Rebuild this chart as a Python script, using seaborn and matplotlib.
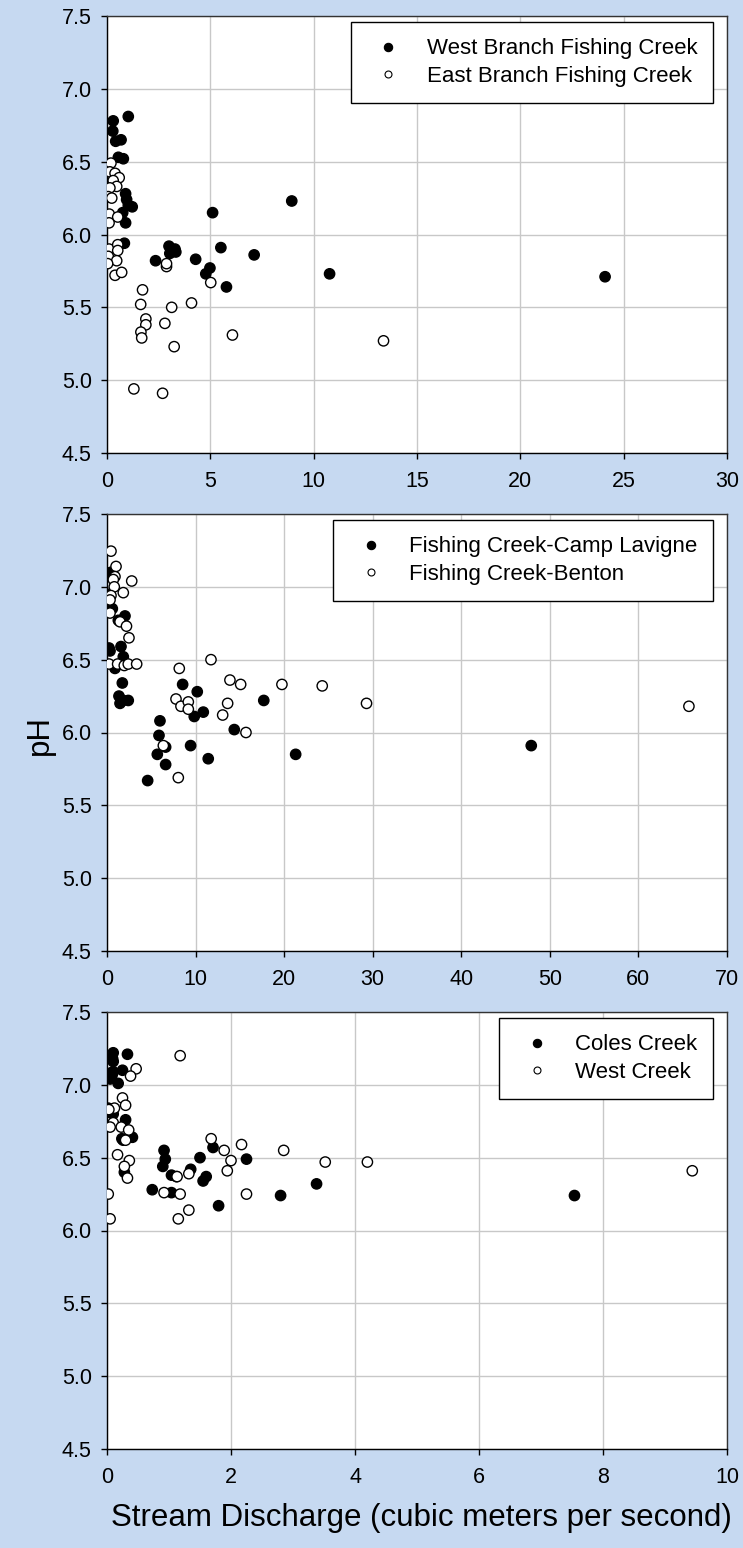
import numpy as np
import pandas as pd
import matplotlib
matplotlib.use('Agg')
import matplotlib.pyplot as plt
from matplotlib.lines import Line2D
import seaborn as sns

# ========================
# DATA
# ========================

# Panel 1
wb_q = [0.30, 1.03, 0.28, 0.42, 0.68, 0.55, 0.79, 0.90, 0.95, 1.03, 1.22, 0.76, 0.90, 0.84,
        5.11, 3.00, 3.29, 3.04, 3.33, 2.35, 4.29, 5.51, 7.12, 4.98, 4.78, 5.78, 8.94, 10.77, 24.1]
wb_ph = [6.78, 6.81, 6.71, 6.64, 6.65, 6.53, 6.52, 6.28, 6.24, 6.20, 6.19, 6.15, 6.08, 5.94,
         6.15, 5.92, 5.90, 5.87, 5.88, 5.82, 5.83, 5.91, 5.86, 5.77, 5.73, 5.64, 6.23, 5.73, 5.71]
eb_q = [0.19, 0.14, 0.39, 0.59, 0.30, 0.47, 0.14, 0.06, 0.23, 0.11, 0.52, 0.10, 0.10, 0.52,
        0.06, 0.52, 0.47, 0.03, 0.39, 0.71, 1.72, 2.88, 2.88, 5.02, 1.63, 3.13, 4.09, 1.88,
        1.88, 2.80, 1.64, 1.68, 3.25, 6.07, 1.30, 2.69, 13.38]
eb_ph = [6.49, 6.43, 6.42, 6.39, 6.37, 6.33, 6.32, 6.26, 6.25, 6.14, 6.12, 6.08, 5.90, 5.93,
         5.85, 5.89, 5.82, 5.80, 5.72, 5.74, 5.62, 5.78, 5.80, 5.67, 5.52, 5.50, 5.53, 5.42,
         5.38, 5.39, 5.33, 5.29, 5.23, 5.31, 4.94, 4.91, 5.27]

# Panel 2
cl_q = [0.45, 0.60, 0.34, 0.60, 2.03, 1.28, 0.23, 0.34, 1.58, 1.84, 0.90, 1.73, 1.35, 1.84,
        2.40, 1.47, 8.54, 10.19, 9.85, 10.87, 14.37, 5.98, 5.87, 6.62, 9.44, 5.68, 11.43,
        6.62, 4.59, 17.7, 21.3, 47.9]
cl_ph = [7.10, 7.07, 6.95, 6.85, 6.80, 6.77, 6.58, 6.56, 6.59, 6.52, 6.44, 6.34, 6.25, 6.22,
         6.22, 6.20, 6.33, 6.28, 6.11, 6.14, 6.02, 6.08, 5.98, 5.90, 5.91, 5.85, 5.82,
         5.78, 5.67, 6.22, 5.85, 5.91]
bn_q = [0.45, 1.02, 0.90, 0.71, 2.79, 0.82, 1.84, 0.45, 0.34, 0.34, 1.47, 2.20, 2.48, 11.74,
        0.23, 1.20, 1.95, 2.40, 3.35, 8.16, 7.79, 8.35, 9.18, 9.18, 13.88, 15.09, 13.62,
        13.06, 15.69, 6.36, 8.05, 19.75, 24.3, 29.3, 65.7]
bn_ph = [7.245, 7.14, 7.07, 7.05, 7.04, 7.00, 6.96, 6.94, 6.91, 6.82, 6.76, 6.73, 6.65, 6.50,
         6.47, 6.47, 6.46, 6.47, 6.47, 6.44, 6.23, 6.18, 6.21, 6.16, 6.36, 6.33, 6.20,
         6.12, 6.00, 5.91, 5.69, 6.33, 6.32, 6.20, 6.18]

# Panel 3
cc_q = [0.10, 0.09, 0.10, 0.33, 0.05, 0.085, 0.05, 0.10, 0.25, 0.18, 0.02, 0.05, 0.10, 0.30,
        0.24, 0.26, 0.41, 0.92, 0.94, 1.50, 1.71, 2.25, 0.28, 0.90, 1.04, 1.12, 1.35, 1.55,
        1.60, 0.73, 1.04, 1.80, 2.80, 3.38, 7.54]
cc_ph = [7.22, 7.18, 7.16, 7.21, 7.08, 7.07, 7.04, 7.09, 7.10, 7.01, 6.84, 6.81, 6.80, 6.76,
         6.63, 6.62, 6.64, 6.55, 6.49, 6.50, 6.57, 6.49, 6.40, 6.44, 6.38, 6.37, 6.42, 6.34,
         6.37, 6.28, 6.26, 6.17, 6.24, 6.32, 6.24]
wc_q = [1.18, 0.47, 0.38, 0.25, 0.12, 0.30, 0.03, 0.10, 0.05, 0.23, 0.35, 0.30, 1.68, 1.89,
        2.17, 2.00, 0.17, 0.36, 0.28, 0.33, 1.94, 1.13, 1.32, 0.92, 1.18, 0.02, 2.25, 1.32,
        1.15, 0.05, 2.85, 3.52, 4.2, 9.44]
wc_ph = [7.20, 7.11, 7.06, 6.91, 6.84, 6.86, 6.83, 6.74, 6.71, 6.71, 6.69, 6.62, 6.63, 6.55,
         6.59, 6.48, 6.52, 6.48, 6.44, 6.36, 6.41, 6.37, 6.39, 6.26, 6.25, 6.25, 6.25, 6.14,
         6.08, 6.08, 6.55, 6.47, 6.47, 6.41]

PANELS = [
    ("West Branch Fishing Creek", wb_q, wb_ph, "East Branch Fishing Creek", eb_q, eb_ph, 30, 5),
    ("Fishing Creek-Camp Lavigne", cl_q, cl_ph, "Fishing Creek-Benton", bn_q, bn_ph, 70, 10),
    ("Coles Creek", cc_q, cc_ph, "West Creek", wc_q, wc_ph, 10, 2),
]

BG = '#C6D9F1'
W, H = 743, 1548

sns.set_style("white")
plt.rcParams['font.family'] = ['Liberation Sans', 'DejaVu Sans']
plt.rcParams['text.color'] = 'black'
plt.rcParams['xtick.color'] = 'black'
plt.rcParams['ytick.color'] = 'black'

fig = plt.figure(figsize=(W / 100, H / 100), dpi=100, facecolor=BG)

# axes boxes in pixels: (top, bottom)
boxes = [(16, 453), (514, 951), (1012, 1449)]
left_px, right_px = 107, 727

for (name1, q1, ph1, name2, q2, ph2, xmax, xstep), (top, bot) in zip(PANELS, boxes):
    ax = fig.add_axes([left_px / W, 1 - bot / H, (right_px - left_px) / W, (bot - top) / H])
    ax.set_facecolor('white')

    df = pd.DataFrame({
        'q': list(q1) + list(q2),
        'ph': list(ph1) + list(ph2),
        'site': [name1] * len(q1) + [name2] * len(q2),
    })
    sns.scatterplot(data=df, x='q', y='ph', hue='site',
                    palette={name1: 'black', name2: 'white'},
                    edgecolor='black', linewidth=1.0, s=55, legend=False,
                    ax=ax, zorder=3)

    ax.set_xlim(0, xmax)
    ax.set_ylim(4.5, 7.5)
    ax.set_xticks(np.arange(0, xmax + xstep / 2, xstep))
    ax.set_yticks(np.arange(4.5, 7.51, 0.5))
    ax.set_yticklabels([f"{v:.1f}" for v in np.arange(4.5, 7.51, 0.5)])
    ax.grid(True, color='#C8C8C8', linewidth=1.0)
    ax.set_axisbelow(True)
    ax.set_xlabel('')
    ax.set_ylabel('')
    ax.tick_params(axis='both', which='major', labelsize=15.5, direction='out',
                   length=4, width=1, color='black', labelcolor='black',
                   left=True, bottom=True)
    ax.tick_params(axis='x', pad=9)
    ax.tick_params(axis='y', pad=7)
    for sp in ax.spines.values():
        sp.set_color('#333333')
        sp.set_linewidth(1.0)
    ax.spines['left'].set_color('black')
    ax.spines['bottom'].set_color('black')

    handles = [
        Line2D([], [], linestyle='none', marker='o', markersize=6,
               markerfacecolor='black', markeredgecolor='black', markeredgewidth=0.8),
        Line2D([], [], linestyle='none', marker='o', markersize=5,
               markerfacecolor='white', markeredgecolor='black', markeredgewidth=0.8),
    ]
    leg = ax.legend(handles, [name1, name2], loc='upper right',
                    bbox_to_anchor=(0.978, 0.986), borderaxespad=0,
                    fontsize=16, frameon=True, fancybox=False, shadow=False,
                    framealpha=1, edgecolor='black', borderpad=0.73,
                    handlelength=1.9, handletextpad=0.77, labelspacing=0.28)
    leg.get_frame().set_linewidth(1.0)
    for t in leg.get_texts():
        t.set_color('black')

fig.text(40 / W, 1 - 735 / H, 'pH', rotation=90, ha='center', va='center',
         fontsize=22.5, color='black')
fig.text(421 / W, 1 - 1518 / H, 'Stream Discharge (cubic meters per second)',
         ha='center', va='center', fontsize=22.5, color='black')

fig.savefig('out.png', dpi=100, facecolor=BG)
